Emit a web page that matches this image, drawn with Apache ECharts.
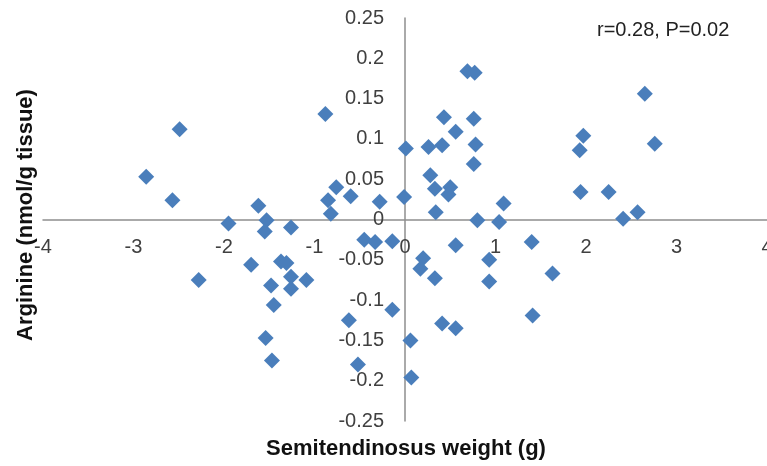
<!DOCTYPE html>
<html>
<head>
<meta charset="utf-8">
<script src="https://cdn.jsdelivr.net/npm/echarts@6/dist/echarts.min.js"></script>
<style>
html,body{margin:0;padding:0;background:#fff;}
#chart{width:767px;height:466px;}
</style>
</head>
<body>
<div id="chart"></div>
<script>
// Semitendinosus weight (g)
var weight = [
  -2.49, -2.86, -2.57, -0.88, -0.76, -0.85, -0.82, -0.60, -0.28, -1.62,
  -1.95, -1.53, -1.55, -1.26, -1.70, -2.28, -1.37, -1.31, -1.26, -1.09,
  -1.48, -1.26, -1.45, -1.54, -1.47, -0.62, -0.52, -0.45, -0.33, -0.14,
  -0.14, 0.01, -0.01, 0.26, 0.41, 0.43, 0.56, 0.69, 0.77, 0.76,
  0.78, 0.76, 0.28, 0.33, 0.50, 0.48, 0.34, 0.80, 1.04, 1.09,
  1.93, 1.97, 1.94, 2.25, 2.41, 2.57, 2.65, 2.76, 0.56, 1.40,
  0.20, 0.17, 0.33, 0.93, 0.93, 1.63, 0.41, 0.56, 1.41, 0.06,
  0.07
];
// Arginine (nmol/g tissue)
var arginine = [
  0.112, 0.053, 0.024, 0.131, 0.040, 0.024, 0.007, 0.029, 0.022, 0.017,
  -0.005, -0.001, -0.015, -0.010, -0.056, -0.075, -0.052, -0.054, -0.071, -0.075,
  -0.082, -0.086, -0.106, -0.147, -0.175, -0.125, -0.180, -0.025, -0.028, -0.027,
  -0.112, 0.088, 0.028, 0.090, 0.092, 0.127, 0.109, 0.184, 0.182, 0.125,
  0.093, 0.069, 0.055, 0.038, 0.040, 0.031, 0.009, -0.001, -0.003, 0.020,
  0.086, 0.104, 0.034, 0.034, 0.001, 0.009, 0.156, 0.094, -0.032, -0.028,
  -0.048, -0.061, -0.073, -0.050, -0.077, -0.067, -0.129, -0.135, -0.119, -0.150,
  -0.196
];
var xTickLabels = ['-4', '-3', '-2', '-1', '0', '1', '2', '3', '4'];
var yTickLabels = ['-0.25', '-0.2', '-0.15', '-0.1', '-0.05', '0', '0.05', '0.1', '0.15', '0.2', '0.25'];
var xTitle = 'Semitendinosus weight (g)';
var yTitle = 'Arginine (nmol/g tissue)';
var note = 'r=0.28, P=0.02';

var points = weight.map(function (w, i) { return [w, arginine[i]]; });
var FONT = "'Liberation Sans', Arial, sans-serif";

// grid geometry: the two axes are drawn through the origin
var GRID = {left: 43, right: 0, top: 18, bottom: 45};
var W = 767, H = 466;
var gridW = W - GRID.left - GRID.right;
var gridH = H - GRID.top - GRID.bottom;
var yAxisOffset = -(gridW * (0 - (-4)) / 8);        // move y axis to x = 0
var xAxisOffset = -(gridH * (0 - (-0.25)) / 0.5);   // move x axis to y = 0

var chart = echarts.init(document.getElementById('chart'), null, {renderer: 'canvas'});
chart.setOption({
  animation: false,
  backgroundColor: '#ffffff',
  grid: {left: GRID.left, right: GRID.right, top: GRID.top, bottom: GRID.bottom, containLabel: false, outerBoundsMode: 'none'},
  xAxis: {
    type: 'value', min: -4, max: 4, interval: 1,
    position: 'bottom', offset: xAxisOffset,
    axisLine: {show: true, onZero: false, lineStyle: {color: '#8e8e8e', width: 1.5}},
    axisTick: {show: false},
    splitLine: {show: false},
    axisLabel: {
      margin: 18, fontSize: 20, fontFamily: FONT, color: '#404040',
      showMinLabel: true, showMaxLabel: true, hideOverlap: false,
      formatter: function (v) { return xTickLabels[Math.round(v) + 4]; }
    }
  },
  yAxis: {
    type: 'value', min: -0.25, max: 0.25, interval: 0.05,
    position: 'left', offset: yAxisOffset,
    axisLine: {show: true, onZero: false, lineStyle: {color: '#8e8e8e', width: 1.5}},
    axisTick: {show: false},
    splitLine: {show: false},
    axisLabel: {
      margin: 21, fontSize: 20, fontFamily: FONT, color: '#404040',
      padding: [3, 0, 0, 0],
      showMinLabel: true, showMaxLabel: true, hideOverlap: false,
      formatter: function (v) { return yTickLabels[Math.round(v / 0.05) + 5]; }
    }
  },
  series: [{
    type: 'scatter',
    data: points,
    symbol: 'diamond',
    symbolSize: 16,
    itemStyle: {color: '#4A7EBB', opacity: 1},
    z: 3
  }],
  graphic: [
    {
      type: 'text', x: 406, y: 449,
      style: {text: xTitle, fill: '#111', font: "bold 22px " + FONT, textAlign: 'center', textVerticalAlign: 'middle'}
    },
    {
      type: 'text', x: 26, y: 215, rotation: Math.PI / 2,
      style: {text: yTitle, fill: '#111', font: "bold 22px " + FONT, textAlign: 'center', textVerticalAlign: 'middle'}
    },
    {
      type: 'text', x: 597, y: 30,
      style: {text: note, fill: '#222', font: "20px " + FONT, textAlign: 'left', textVerticalAlign: 'middle'}
    }
  ]
});
</script>
</body>
</html>
